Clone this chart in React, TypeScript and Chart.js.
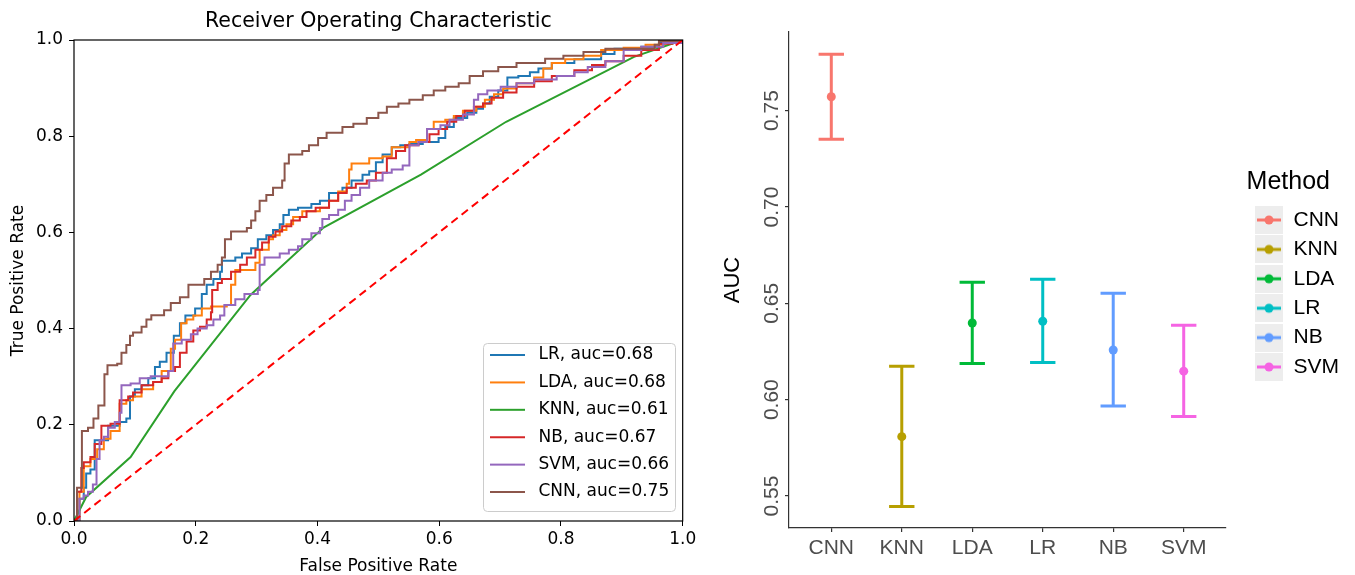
import React, { useEffect, useRef } from 'react';
import { Chart, registerables } from 'chart.js';

Chart.register(...registerables);

// ---------------- ROC chart data (left) ----------------
const rocNames = ['LR', 'LDA', 'KNN', 'NB', 'SVM', 'CNN'];
const rocAuc = ['0.68', '0.68', '0.61', '0.67', '0.66', '0.75'];
const rocColors = ['#1f77b4', '#ff7f0e', '#2ca02c', '#d62728', '#9467bd', '#8c564b'];
const rocStepped = [true, true, false, true, true, true];
const rocTicks = [0, 0.2, 0.4, 0.6, 0.8, 1.0];

const lrFpr = [0.009,0.016,0.020,0.027,0.034,0.056,0.075,0.086,0.092,0.100,0.111,0.122,0.133,0.141,0.152,0.164,0.174,0.183,0.199,0.210,0.218,0.229,0.240,0.243,0.265,0.276,0.291,0.302,0.316,0.327,0.338,0.344,0.353,0.368,0.390,0.404,0.419,0.441,0.456,0.474,0.485,0.496,0.507,0.522,0.536,0.551,0.573,0.599,0.610,0.624,0.646,0.661,0.672,0.683,0.697,0.712,0.730,0.749,0.763,0.785,0.822,0.866,0.888,0.932,0.961];
const lrTpr = [0.046,0.069,0.099,0.107,0.168,0.198,0.206,0.213,0.259,0.274,0.282,0.297,0.320,0.331,0.350,0.385,0.411,0.427,0.442,0.472,0.491,0.503,0.518,0.541,0.548,0.556,0.567,0.586,0.594,0.605,0.617,0.636,0.647,0.651,0.659,0.666,0.682,0.693,0.708,0.720,0.727,0.746,0.762,0.777,0.781,0.784,0.788,0.796,0.819,0.838,0.849,0.857,0.868,0.882,0.895,0.922,0.925,0.933,0.941,0.952,0.960,0.971,0.982,0.986,0.994];

const ldaFpr = [0.009,0.016,0.027,0.038,0.049,0.060,0.075,0.086,0.097,0.111,0.130,0.144,0.159,0.166,0.176,0.185,0.196,0.210,0.225,0.251,0.258,0.265,0.298,0.305,0.320,0.327,0.338,0.349,0.360,0.375,0.404,0.419,0.434,0.448,0.452,0.456,0.485,0.507,0.522,0.551,0.562,0.580,0.591,0.610,0.624,0.639,0.661,0.675,0.690,0.705,0.727,0.756,0.771,0.785,0.807,0.837,0.866,0.903,0.939,0.968];
const ldaTpr = [0.061,0.114,0.129,0.149,0.171,0.187,0.244,0.251,0.259,0.274,0.289,0.312,0.358,0.377,0.411,0.419,0.427,0.442,0.446,0.449,0.491,0.522,0.537,0.564,0.586,0.594,0.605,0.617,0.632,0.644,0.651,0.666,0.685,0.701,0.731,0.743,0.754,0.758,0.777,0.788,0.792,0.815,0.830,0.834,0.842,0.853,0.861,0.876,0.887,0.899,0.910,0.922,0.941,0.952,0.960,0.967,0.979,0.984,0.990,0.998];

const knnFpr = [0.02, 0.093, 0.165, 0.29, 0.41, 0.57, 0.71, 0.92];
const knnTpr = [0.05, 0.133, 0.27, 0.47, 0.61, 0.72, 0.83, 0.965];

const nbFpr = [0.005,0.012,0.016,0.027,0.034,0.045,0.060,0.075,0.089,0.097,0.111,0.130,0.144,0.155,0.166,0.174,0.185,0.196,0.207,0.218,0.225,0.227,0.236,0.243,0.258,0.273,0.284,0.298,0.309,0.320,0.331,0.342,0.357,0.371,0.382,0.397,0.419,0.434,0.448,0.463,0.481,0.496,0.514,0.529,0.544,0.566,0.584,0.599,0.613,0.628,0.642,0.657,0.672,0.686,0.705,0.727,0.756,0.785,0.822,0.851,0.873,0.903,0.932,0.961,0.983];
const nbTpr = [0.061,0.110,0.122,0.133,0.160,0.198,0.202,0.251,0.259,0.267,0.282,0.289,0.297,0.312,0.320,0.350,0.373,0.396,0.404,0.419,0.434,0.480,0.495,0.503,0.518,0.533,0.548,0.564,0.579,0.591,0.602,0.613,0.625,0.632,0.644,0.651,0.666,0.682,0.693,0.701,0.708,0.724,0.754,0.769,0.781,0.788,0.804,0.815,0.830,0.842,0.853,0.861,0.868,0.880,0.891,0.903,0.914,0.925,0.937,0.948,0.956,0.967,0.979,0.992,0.998];

const svmFpr = [0.009,0.016,0.023,0.031,0.037,0.042,0.049,0.056,0.067,0.075,0.078,0.093,0.108,0.126,0.155,0.163,0.177,0.192,0.203,0.218,0.229,0.240,0.247,0.265,0.280,0.302,0.305,0.313,0.338,0.353,0.368,0.375,0.390,0.404,0.408,0.419,0.434,0.445,0.456,0.470,0.485,0.507,0.522,0.540,0.551,0.566,0.580,0.602,0.617,0.639,0.657,0.664,0.679,0.701,0.727,0.756,0.793,0.822,0.844,0.873,0.903,0.932,0.968];
const svmTpr = [0.046,0.053,0.061,0.076,0.129,0.168,0.175,0.194,0.206,0.225,0.282,0.286,0.297,0.301,0.312,0.369,0.377,0.388,0.400,0.407,0.419,0.427,0.449,0.461,0.472,0.480,0.533,0.548,0.556,0.564,0.571,0.586,0.598,0.609,0.628,0.636,0.647,0.666,0.678,0.693,0.708,0.724,0.731,0.739,0.781,0.788,0.815,0.823,0.834,0.845,0.876,0.887,0.895,0.903,0.910,0.918,0.925,0.933,0.944,0.956,0.979,0.986,0.994];

const cnnFpr = [0.005,0.013,0.023,0.032,0.040,0.050,0.055,0.071,0.078,0.086,0.092,0.097,0.111,0.119,0.127,0.148,0.159,0.174,0.188,0.214,0.225,0.236,0.243,0.248,0.258,0.284,0.291,0.298,0.305,0.316,0.327,0.342,0.346,0.353,0.375,0.386,0.401,0.415,0.441,0.459,0.481,0.500,0.514,0.533,0.551,0.573,0.591,0.610,0.632,0.650,0.672,0.697,0.727,0.774,0.804,0.837,0.873,0.954,0.961];
const cnnTpr = [0.069,0.187,0.194,0.213,0.240,0.305,0.324,0.327,0.350,0.366,0.385,0.392,0.404,0.419,0.428,0.438,0.453,0.465,0.491,0.503,0.518,0.533,0.548,0.586,0.602,0.609,0.625,0.644,0.666,0.678,0.693,0.708,0.743,0.762,0.769,0.781,0.796,0.807,0.819,0.826,0.838,0.849,0.861,0.868,0.876,0.885,0.895,0.903,0.910,0.925,0.935,0.944,0.952,0.961,0.967,0.975,0.982,0.990,0.998];

const rocFprs = [lrFpr, ldaFpr, knnFpr, nbFpr, svmFpr, cnnFpr];
const rocTprs = [lrTpr, ldaTpr, knnTpr, nbTpr, svmTpr, cnnTpr];
const chanceX = [0, 1];
const chanceY = [0, 1];

// ---------------- AUC chart data (right) ----------------
const methods = ['CNN', 'KNN', 'LDA', 'LR', 'NB', 'SVM'];
const aucMean = [0.7572, 0.5808, 0.6398, 0.6407, 0.6258, 0.6148];
const aucLower = [0.7352, 0.5445, 0.6188, 0.6193, 0.5967, 0.5912];
const aucUpper = [0.7793, 0.6173, 0.6609, 0.6625, 0.6552, 0.6386];
const aucTicks = [0.55, 0.60, 0.65, 0.70, 0.75];
const methodColors = ['#F8766D', '#B79F00', '#00BA38', '#00BFC4', '#619CFF', '#F564E3'];

const DJ = 'DejaVu Sans';
const LS = 'Liberation Sans';

function lineIcon(color: string, w: number, len: number, h: number, lw: number) {
  const c = document.createElement('canvas');
  c.width = w;
  c.height = h;
  const g = c.getContext('2d')!;
  g.strokeStyle = color;
  g.lineWidth = lw;
  g.beginPath();
  g.moveTo(0, h / 2);
  g.lineTo(len, h / 2);
  g.stroke();
  return c;
}

function keyIcon(color: string) {
  const c = document.createElement('canvas');
  c.width = 28;
  c.height = 28;
  const g = c.getContext('2d')!;
  g.fillStyle = '#ededed';
  g.fillRect(0, 0, 28, 28);
  g.strokeStyle = color;
  g.lineWidth = 3;
  g.beginPath();
  g.moveTo(2, 14);
  g.lineTo(26, 14);
  g.stroke();
  g.fillStyle = color;
  g.beginPath();
  g.arc(14, 14, 4.5, 0, Math.PI * 2);
  g.fill();
  return c;
}

const legendPlacer = (x: number, y: number) => ({
  id: 'legendPlacer',
  afterLayout(chart: any) {
    const lg = chart.legend;
    if (!lg) return;
    const w = lg.width;
    const h = lg.height;
    lg.left = x;
    lg.top = y;
    lg.right = x + w;
    lg.bottom = y + h;
  },
});

function rocConfig(): any {
  const n = rocNames.length;
  const curves = rocNames.map((name, i) => {
    const fpr = rocFprs[i];
    const tpr = rocTprs[i];
    const m = Math.min(fpr.length, tpr.length);
    const pts = [{ x: 0, y: 0 }];
    for (let k = 0; k < m; k++) pts.push({ x: fpr[k], y: tpr[k] });
    pts.push({ x: 1, y: 1 });
    return {
      label: `${name}, auc=${rocAuc[i]}`,
      data: pts,
      borderColor: rocColors[i],
      backgroundColor: rocColors[i],
      borderWidth: 2,
      pointRadius: 0,
      stepped: rocStepped[i] ? 'before' : false,
      tension: 0,
      fill: false,
      order: n - i + 1,
    };
  });
  const diag = {
    label: 'chance',
    data: chanceX.map((x, k) => ({ x, y: chanceY[k] })),
    borderColor: '#ff0000',
    borderWidth: 2,
    borderDash: [8, 5],
    pointRadius: 0,
    fill: false,
    order: 0,
  };
  const icons = rocColors.map((c) => lineIcon(c, 40, 35, 4, 2));
  const tickFont = { family: DJ, size: 17 };
  return {
    type: 'line',
    data: { datasets: [...curves, diag] },
    options: {
      responsive: false,
      animation: false,
      devicePixelRatio: 1,
      events: [],
      layout: { padding: { left: 0, top: 0, right: 15, bottom: 0 } },
      scales: {
        x: {
          type: 'linear',
          min: 0,
          max: 1,
          afterBuildTicks: (ax: any) => {
            ax.ticks = rocTicks.map((v) => ({ value: v }));
          },
          afterFit: (ax: any) => {
            ax.height = 54;
          },
          ticks: {
            callback: (v: any) => Number(v).toFixed(1),
            font: tickFont,
            color: '#000',
            padding: 3.8,
            maxRotation: 0,
            autoSkip: false,
          },
          grid: { drawOnChartArea: false, drawTicks: true, tickLength: 5, color: '#000', lineWidth: 1 },
          border: { display: false },
          title: {
            display: true,
            text: 'False Positive Rate',
            font: tickFont,
            color: '#000',
            padding: { top: 0, bottom: -2 },
          },
        },
        y: {
          type: 'linear',
          min: 0,
          max: 1,
          afterBuildTicks: (ax: any) => {
            ax.ticks = rocTicks.map((v) => ({ value: v }));
          },
          afterFit: (ax: any) => {
            ax.width = 74;
          },
          ticks: {
            callback: (v: any) => Number(v).toFixed(1),
            font: tickFont,
            color: '#000',
            padding: 6,
            autoSkip: false,
          },
          grid: { drawOnChartArea: false, drawTicks: true, tickLength: 5, color: '#000', lineWidth: 1 },
          border: { display: false },
          title: {
            display: true,
            text: 'True Positive Rate',
            font: tickFont,
            color: '#000',
            padding: { top: 8.8, bottom: 0 },
          },
        },
      },
      plugins: {
        tooltip: { enabled: false },
        title: {
          display: true,
          text: 'Receiver Operating Characteristic',
          fullSize: false,
          font: { family: DJ, size: 20.5, weight: 'normal', lineHeight: 1.2 },
          color: '#000',
          padding: { top: 9.2, bottom: 6.2 },
        },
        legend: {
          display: true,
          position: 'chartArea',
          align: 'start',
          labels: {
            usePointStyle: true,
            pointStyleWidth: 40,
            padding: 10.4,
            font: { family: DJ, size: 17 },
            color: '#000',
            generateLabels: () =>
              rocNames.map((name, i) => ({
                text: `${name}, auc=${rocAuc[i]}`,
                pointStyle: icons[i],
                fillStyle: rocColors[i],
                strokeStyle: rocColors[i],
                lineWidth: 1,
                hidden: false,
                fontColor: '#000',
                datasetIndex: i,
              })),
          },
        },
      },
    },
    plugins: [
      legendPlacer(479.6, 336.1),
      {
        id: 'legendFrame',
        beforeDraw(chart: any) {
          const ctx = chart.ctx;
          ctx.save();
          ctx.beginPath();
          (ctx as any).roundRect(483.5, 343.5, 192, 168, 4);
          ctx.fillStyle = 'rgba(255,255,255,0.8)';
          ctx.fill();
          ctx.strokeStyle = '#cccccc';
          ctx.lineWidth = 1;
          ctx.stroke();
          ctx.restore();
        },
      },
      {
        id: 'spines',
        afterDraw(chart: any) {
          const { left, top, right, bottom } = chart.chartArea;
          const ctx = chart.ctx;
          ctx.save();
          ctx.strokeStyle = '#000';
          ctx.lineWidth = 1.2;
          ctx.strokeRect(left, top, right - left, bottom - top);
          ctx.restore();
        },
      },
    ],
  };
}

function aucConfig(): any {
  const CAP = 0.18;
  const datasets: any[] = [];
  methods.forEach((m, i) => {
    datasets.push({
      label: `${m} interval`,
      data: [
        { x: i - CAP, y: aucUpper[i] },
        { x: i + CAP, y: aucUpper[i] },
        { x: i, y: null },
        { x: i, y: aucUpper[i] },
        { x: i, y: aucLower[i] },
        { x: i, y: null },
        { x: i - CAP, y: aucLower[i] },
        { x: i + CAP, y: aucLower[i] },
      ],
      borderColor: methodColors[i],
      borderWidth: 3,
      pointRadius: 0,
      spanGaps: false,
      tension: 0,
      fill: false,
    });
    datasets.push({
      label: m,
      data: [{ x: i, y: aucMean[i] }],
      showLine: false,
      pointRadius: 4.5,
      pointBackgroundColor: methodColors[i],
      pointBorderWidth: 0,
      borderColor: methodColors[i],
    });
  });
  const icons = methodColors.map((c) => keyIcon(c));
  const tickFont = { family: LS, size: 21 };
  return {
    type: 'line',
    data: { datasets },
    options: {
      responsive: false,
      animation: false,
      devicePixelRatio: 1,
      events: [],
      layout: { padding: { left: 0, top: 32, right: 129, bottom: 0 } },
      scales: {
        x: {
          type: 'linear',
          min: -0.6,
          max: 5.6,
          afterBuildTicks: (ax: any) => {
            ax.ticks = methods.map((_, i) => ({ value: i }));
          },
          afterFit: (ax: any) => {
            ax.height = 47;
          },
          ticks: {
            callback: (v: any) => methods[Math.round(Number(v))] ?? '',
            font: tickFont,
            color: '#4d4d4d',
            padding: 3.4,
            maxRotation: 0,
            autoSkip: false,
          },
          grid: { drawOnChartArea: false, drawTicks: true, tickLength: 4, color: '#333333', lineWidth: 1.2 },
          border: { display: true, color: '#333333', width: 1.2 },
        },
        y: {
          type: 'linear',
          min: 0.5334,
          max: 0.7908,
          afterBuildTicks: (ax: any) => {
            ax.ticks = aucTicks.map((v) => ({ value: v }));
          },
          afterFit: (ax: any) => {
            ax.width = 89;
          },
          ticks: {
            callback: (v: any) => Number(v).toFixed(2),
            font: tickFont,
            color: '#4d4d4d',
            minRotation: 90,
            maxRotation: 90,
            crossAlign: 'center',
            padding: -8,
            autoSkip: false,
          },
          grid: { drawOnChartArea: false, drawTicks: true, tickLength: 4, color: '#333333', lineWidth: 1.2 },
          border: { display: true, color: '#333333', width: 1.2 },
          title: {
            display: true,
            text: 'AUC',
            font: { family: LS, size: 22 },
            color: '#000',
            padding: { top: 19.8, bottom: 0 },
          },
        },
      },
      plugins: {
        tooltip: { enabled: false },
        legend: {
          display: true,
          position: 'chartArea',
          align: 'start',
          title: {
            display: true,
            text: 'Method',
            position: 'start',
            font: { family: LS, size: 25, lineHeight: 1.2 },
            color: '#000',
            padding: { top: 0, bottom: 1.6 },
          },
          labels: {
            usePointStyle: true,
            pointStyleWidth: 28,
            padding: 8.4,
            font: { family: LS, size: 21 },
            color: '#000',
            generateLabels: () =>
              methods.map((m, i) => ({
                text: m,
                pointStyle: icons[i],
                fillStyle: methodColors[i],
                strokeStyle: methodColors[i],
                lineWidth: 1,
                hidden: false,
                fontColor: '#000',
                datasetIndex: i * 2 + 1,
              })),
          },
        },
      },
    },
    plugins: [legendPlacer(546.6, 169.5)],
  };
}

function ChartCanvas(props: { make: () => any; left: number; width: number; height: number }) {
  const ref = useRef<HTMLCanvasElement>(null);
  useEffect(() => {
    const chart = new Chart(ref.current as HTMLCanvasElement, props.make());
    return () => chart.destroy();
  }, []);
  return (
    <canvas
      ref={ref}
      width={props.width}
      height={props.height}
      style={{ position: 'absolute', left: props.left, top: 0, width: props.width, height: props.height }}
    />
  );
}

export default function App() {
  return (
    <div style={{ position: 'fixed', left: 0, top: 0, width: 1355, height: 575, background: '#fff' }}>
      <ChartCanvas make={rocConfig} left={0} width={700} height={575} />
      <ChartCanvas make={aucConfig} left={700} width={655} height={575} />
    </div>
  );
}
